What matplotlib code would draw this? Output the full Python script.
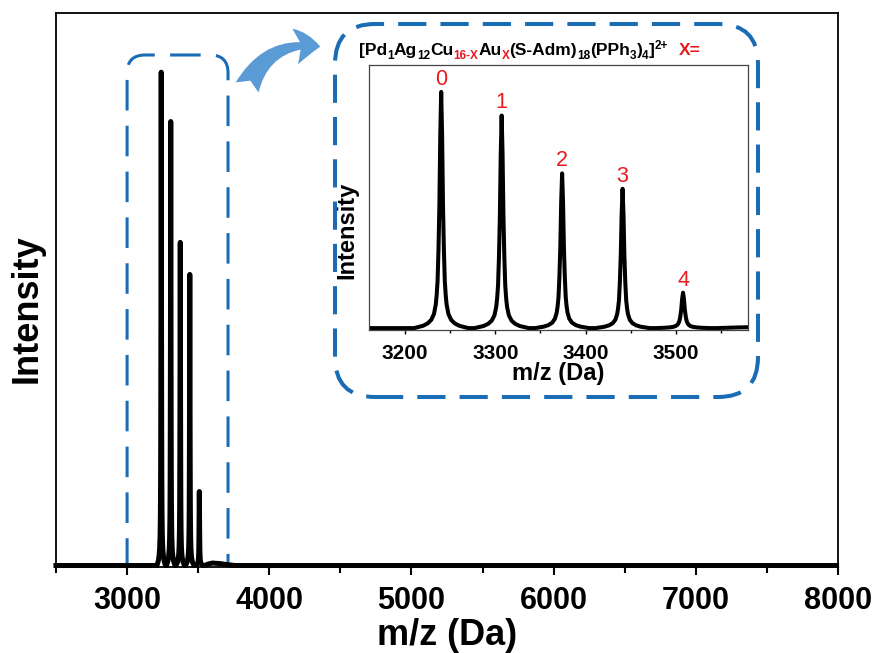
import matplotlib
matplotlib.use('Agg')
import matplotlib.pyplot as plt
from matplotlib.patches import FancyBboxPatch, FancyArrowPatch
from matplotlib.transforms import IdentityTransform
from matplotlib.ticker import MultipleLocator

plt.rcParams['font.family'] = ['Liberation Sans', 'DejaVu Sans']
plt.rcParams['font.weight'] = 'bold'

# cluster peaks, X = 0..4 (m/z in Da, intensity relative to X=0)
peak_mz = [3240, 3307, 3374, 3441, 3508]
peak_rel = [1.0, 0.90, 0.655, 0.59, 0.15]
peak_labels = ['0', '1', '2', '3', '4']

# peak profile (offset in Da, fraction of peak top)
shape_dx = [-30, -20, -15, -11, -8, -6, -5, -4, -3, -2, -1, 0,
            1, 2, 3, 4, 5, 6, 8, 11, 15, 20, 30]
shape_frac = [0.0, 0.01, 0.02, 0.035, 0.06, 0.1, 0.14, 0.2, 0.33, 0.52, 0.82, 1.0,
              0.82, 0.52, 0.33, 0.2, 0.14, 0.1, 0.06, 0.035, 0.02, 0.01, 0.0]

# flat baseline before the peaks, small shoulder after them
lead_mz = [2500, 3200]
lead_int = [0.0, 0.0]
tail_mz = [3545, 3570, 3600, 3650, 3700, 3760, 7990]
tail_int = [0.0, 0.003, 0.005, 0.004, 0.002, 0.0, 0.0]

# inset title: (text, colour, position)
title_parts = [
    ('[Pd', 'k', 'n'), ('1', 'k', 'sub'), ('Ag', 'k', 'n'), ('12', 'k', 'sub'),
    ('Cu', 'k', 'n'), ('16-X', 'r', 'sub'), ('Au', 'k', 'n'), ('X', 'r', 'sub'),
    ('(S-Adm)', 'k', 'n'), ('18', 'k', 'sub'), ('(PPh', 'k', 'n'), ('3', 'k', 'sub'),
    (')', 'k', 'n'), ('4', 'k', 'sub'), (']', 'k', 'n'), ('2+', 'k', 'sup'),
]
title_tail = 'X='

RED = '#e8191f'
BLUE = '#1a6db5'
ARROW = '#5b9bd5'

mz = list(lead_mz)
inten = list(lead_int)
for c, h in zip(peak_mz, peak_rel):
    mz += [c + d for d in shape_dx]
    inten += [h * f for f in shape_frac]
mz += tail_mz
inten += tail_int

W, H = 881, 653
fig = plt.figure(figsize=(W / 100, H / 100), dpi=100)


def px_rect(l, t, r, b):
    return [l / W, 1 - b / H, (r - l) / W, (b - t) / H]


# main spectrum
ax = fig.add_axes(px_rect(56, 13, 838, 567))
ax.plot(mz, inten, color='black', lw=3.6, clip_on=False, zorder=3)
ax.set_xlim(2500, 8000)
ax.set_ylim(-0.003, 1.12)
ax.set_yticks([])
ax.xaxis.set_major_locator(MultipleLocator(1000))
ax.xaxis.set_minor_locator(MultipleLocator(500))
ax.tick_params(axis='x', which='major', direction='out', length=6, width=1.5,
               labelsize=22, pad=8)
ax.tick_params(axis='x', which='minor', direction='out', length=4, width=1.5)
for s in ax.spines.values():
    s.set_linewidth(1.3)
ax.set_xlabel('m/z (Da)', fontsize=26, fontweight='bold')
ax.set_ylabel('Intensity', fontsize=26, fontweight='bold')
ax.xaxis.set_label_coords(0.5, -0.092)
ax.yaxis.set_label_coords(-0.014, 0.467)

# zoomed inset
axin = fig.add_axes(px_rect(369, 65, 748, 330))
axin.plot(mz, inten, color='black', lw=2.9)
axin.set_xlim(3160, 3580)
axin.set_ylim(-0.008, 1.114)
axin.set_yticks([])
axin.xaxis.set_major_locator(MultipleLocator(100))
axin.xaxis.set_minor_locator(MultipleLocator(50))
axin.tick_params(axis='x', which='major', direction='out', length=3, width=1,
                 labelsize=15, pad=7)
axin.tick_params(axis='x', which='minor', direction='out', length=2.5, width=1)
for s in axin.spines.values():
    s.set_linewidth(0.9)
    s.set_color('#444444')
axin.set_xlabel('m/z (Da)', fontsize=17, fontweight='bold')
axin.set_ylabel('Intensity', fontsize=17, fontweight='bold')
axin.xaxis.set_label_coords(0.5, -0.12)
axin.yaxis.set_label_coords(-0.029, 0.377)
for c, h, t in zip(peak_mz, peak_rel, peak_labels):
    axin.annotate(t, (c, h), xytext=(0, 1.5), textcoords='offset points',
                  ha='center', va='bottom', color=RED, fontsize=15.5, fontweight='normal')

# inset title with coloured sub/superscripts
renderer = fig.canvas.get_renderer()
x = 359
y0 = H - 55
for s, col, kind in title_parts:
    size = 12.5 if kind == 'n' else 8.5
    dy = {'n': 0, 'sub': -4, 'sup': 6}[kind]
    t = fig.text(x / W, (y0 + dy) / H, s, color=RED if col == 'r' else 'black',
                 fontsize=size, fontweight='bold', va='baseline', ha='left')
    x += t.get_window_extent(renderer).width
fig.text((x + 11) / W, y0 / H, title_tail, color=RED, fontsize=12.5,
         fontweight='bold', va='baseline', ha='left')

# dashed rounded boxes
x_a = ax.transData.transform((3000, 0))[0]
x_b = ax.transData.transform((3710, 0))[0]
small = FancyBboxPatch((x_a, H - 600), x_b - x_a, 600 - 55,
                       boxstyle='round,pad=0,rounding_size=18',
                       transform=IdentityTransform(), fill=False, edgecolor=BLUE,
                       lw=2.2, linestyle=(0, (10, 5)), clip_on=True, zorder=1)
ax.add_patch(small)

big = FancyBboxPatch((335, H - 397), 758 - 335, 397 - 24,
                     boxstyle='round,pad=0,rounding_size=40',
                     transform=IdentityTransform(), fill=False, edgecolor=BLUE,
                     lw=2.9, linestyle=(0, (7, 3.5)), clip_on=False, zorder=1)
fig.add_artist(big)

arrow = FancyArrowPatch((246, H - 90), (323, H - 47), connectionstyle='arc3,rad=-0.4',
                        arrowstyle='fancy,head_length=0.9,head_width=1.3,tail_width=0.9',
                        mutation_scale=20, transform=IdentityTransform(),
                        color=ARROW, lw=0)
fig.add_artist(arrow)

fig.savefig('out.png', dpi=100)
